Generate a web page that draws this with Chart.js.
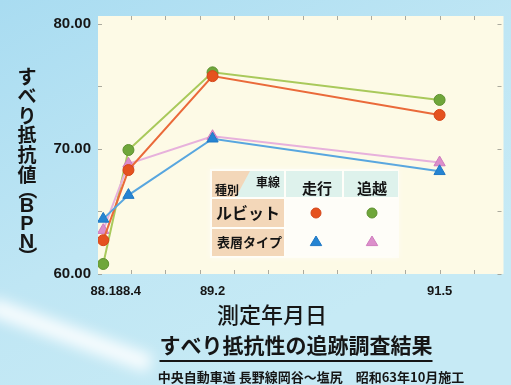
<!DOCTYPE html>
<html>
<head>
<meta charset="utf-8">
<script src="https://cdn.jsdelivr.net/npm/chart.js@4/dist/chart.umd.min.js"></script>
<style>
  html, body { margin: 0; padding: 0; background: #bfe5f3; }
  canvas { display: block; }
</style>
</head>
<body>
<canvas id="c" width="511" height="385"></canvas>
<script>
// 測定年月日 (年.月)
const dates = ['88.1', '88.4', '89.2', '91.5'];
// すべり抵抗値 (BPN)
const rubitSoko   = [62.7, 68.3, 75.8, 72.7];   // ルビット 走行
const rubitOikoshi = [60.8, 69.9, 76.1, 73.9];  // ルビット 追越
const hyosoSoko   = [64.4, 66.3, 70.8, 68.2];   // 表層タイプ 走行
const hyosoOikoshi = [63.5, 68.8, 71.0, 68.9];  // 表層タイプ 追越
const yTicks = [60, 70, 80];

const seriesNames = ['ルビット', '表層タイプ'];
const laneNames = ['走行', '追越'];

const CJK = '"Noto Sans CJK JP", "Noto Sans", sans-serif';
const LAT = '"Liberation Sans", Arial, sans-serif';

// "88.4" -> months elapsed since 88.1
function monthsOf(label) {
  const [yy, mm] = label.split('.').map(Number);
  return (yy - 88) * 12 + (mm - 1);
}
const months = dates.map(monthsOf);
const pts = vals => vals.map((v, i) => ({ x: months[i], y: v }));

const COL = {
  orange: '#e5521f', orangeLine: '#ea6a3a',
  green: '#6fa63a', greenLine: '#a9c95b',
  blue: '#2584d2', blueLine: '#58a6df',
  pink: '#dc8fcb', pinkLine: '#e7b1dc'
};

// index 0 is drawn on top
const datasets = [
  { key: 'hs', label: '表層タイプ 走行', data: pts(hyosoSoko), borderColor: COL.blueLine, backgroundColor: COL.blue,
    pointBorderColor: '#1f78c4', pointStyle: 'triangle', pointRadius: 6.5 },
  { key: 'rs', label: 'ルビット 走行', data: pts(rubitSoko), borderColor: COL.orangeLine, backgroundColor: COL.orange,
    pointBorderColor: '#d4461a', pointStyle: 'circle', pointRadius: 5.5 },
  { key: 'ho', label: '表層タイプ 追越', data: pts(hyosoOikoshi), borderColor: COL.pinkLine, backgroundColor: COL.pink,
    pointBorderColor: '#cf7dbd', pointStyle: 'triangle', pointRadius: 6.5 },
  { key: 'ro', label: 'ルビット 追越', data: pts(rubitOikoshi), borderColor: COL.greenLine, backgroundColor: COL.green,
    pointBorderColor: '#5e9130', pointStyle: 'circle', pointRadius: 5.5 }
].map(d => Object.assign({ borderWidth: 2, pointBorderWidth: 1, tension: 0 }, d));

// Page background, plot panel, and the title block
const decor = {
  id: 'decor',
  beforeDraw(chart) {
    const { ctx, chartArea: a, width: W, height: H } = chart;
    ctx.save();
    const g = ctx.createLinearGradient(0, 0, W * 0.4, H);
    g.addColorStop(0, '#a9dcf1');
    g.addColorStop(0.6, '#bfe6f4');
    g.addColorStop(1, '#c6eaf5');
    ctx.fillStyle = g;
    ctx.fillRect(0, 0, W, H);
    // soft white glare across the lower left
    ctx.filter = 'blur(7px)';
    ctx.strokeStyle = 'rgba(255,255,255,0.9)';
    ctx.lineWidth = 18;
    ctx.beginPath();
    ctx.moveTo(-10, 306);
    ctx.lineTo(150, 364);
    ctx.stroke();
    ctx.filter = 'none';
    // cream plot panel
    ctx.fillStyle = '#fdfae6';
    ctx.fillRect(a.left, a.top, a.right - a.left, a.bottom - a.top);
    ctx.restore();
  },
  afterDraw(chart) {
    const { ctx, chartArea: a, scales } = chart;
    const x = scales.x, y = scales.y;
    ctx.save();
    // small inward tick marks on the panel edges
    ctx.strokeStyle = 'rgba(150,150,140,0.8)';
    ctx.lineWidth = 1;
    for (let m = 3.3 - 4.08; m < x.max; m += 4.08) {
      const px = Math.round(x.getPixelForValue(m)) + 0.5;
      if (px < a.left + 2 || px > a.right - 2) continue;
      ctx.beginPath();
      ctx.moveTo(px, a.top); ctx.lineTo(px, a.top + 4);
      ctx.moveTo(px, a.bottom); ctx.lineTo(px, a.bottom - 4);
      ctx.stroke();
    }
    for (let v = 60; v <= 80; v += 5) {
      const py = Math.round(y.getPixelForValue(v)) + 0.5;
      ctx.beginPath();
      ctx.moveTo(a.left, py); ctx.lineTo(a.left + 4, py);
      ctx.moveTo(a.right - 6, py); ctx.lineTo(a.right - 2, py);
      ctx.stroke();
    }

    ctx.fillStyle = '#161616';
    ctx.textAlign = 'center';
    ctx.textBaseline = 'middle';

    // vertical axis title
    const yTitle = 'すべり抵抗値（BPN）';
    let cy = 66.5;
    for (const ch of yTitle) {
      if (ch === '（' || ch === '）') {
        const h = 12;
        ctx.save();
        ctx.translate(27, cy + h / 2);
        ctx.rotate(Math.PI / 2);
        ctx.font = 'bold 19px ' + CJK;
        ctx.fillText(ch, 0, 0);
        ctx.restore();
        cy += h;
      } else if (/[A-Z]/.test(ch)) {
        const h = 18;
        ctx.font = 'bold 20px ' + LAT;
        ctx.fillText(ch, 27, cy + h / 2 + 1);
        cy += h;
      } else {
        const h = 19.6;
        ctx.font = 'bold 19px ' + CJK;
        ctx.fillText(ch, 27, cy + h / 2);
        cy += h;
      }
    }

    // horizontal axis title
    ctx.font = '500 22px ' + CJK;
    ctx.fillText('測定年月日', 272, 315);

    // chart title with underline
    ctx.font = 'bold 21px ' + CJK;
    const title = 'すべり抵抗性の追跡調査結果';
    ctx.fillText(title, 296, 345);
    const tw = ctx.measureText(title).width;
    ctx.fillRect(296 - tw / 2, 360, tw, 2);

    // subtitle
    ctx.font = 'bold 13px ' + CJK;
    ctx.fillText('中央自動車道 長野線岡谷～塩尻　昭和63年10月施工', 311, 377);
    ctx.restore();
  }
};

// Key table: 種別 × 車線
const keyTable = {
  id: 'keyTable',
  afterDatasetsDraw(chart) {
    const { ctx } = chart;
    const byKey = {};
    chart.data.datasets.forEach(d => { byKey[d.key] = d; });
    const PEACH = '#f3d7b9', MINT = '#def2ec', WHITE = '#fefdf8';
    ctx.save();
    ctx.shadowColor = 'rgba(255,255,255,0.9)';
    ctx.shadowBlur = 6;
    ctx.fillStyle = 'rgba(255,255,255,0.55)';
    ctx.fillRect(210, 169, 189, 89);
    ctx.shadowBlur = 0;

    // header corner cell split on the diagonal
    ctx.fillStyle = MINT;
    ctx.fillRect(212, 171, 72, 26);
    ctx.fillStyle = PEACH;
    ctx.beginPath();
    ctx.moveTo(212, 171); ctx.lineTo(250, 171); ctx.lineTo(236, 197); ctx.lineTo(212, 197);
    ctx.closePath(); ctx.fill();
    // lane headers
    ctx.fillStyle = MINT;
    ctx.fillRect(286, 171, 56, 26);
    ctx.fillRect(344, 171, 54, 26);
    // row headers
    ctx.fillStyle = PEACH;
    ctx.fillRect(212, 199, 72, 28);
    ctx.fillRect(212, 229, 72, 27);
    // symbol cells
    ctx.fillStyle = WHITE;
    ctx.fillRect(286, 199, 112, 57);

    ctx.fillStyle = '#141414';
    ctx.textAlign = 'center';
    ctx.textBaseline = 'middle';
    ctx.font = 'bold 12px ' + CJK;
    ctx.fillText('種別', 227, 190);
    ctx.fillText('車線', 268, 182);
    ctx.font = 'bold 15px ' + CJK;
    ctx.fillText(laneNames[0], 317, 188);
    ctx.fillText(laneNames[1], 372, 188);
    ctx.textAlign = 'left';
    ctx.font = 'bold 16px ' + CJK;
    ctx.fillText(seriesNames[0], 216, 213);
    ctx.font = 'bold 13px ' + CJK;
    ctx.fillText(seriesNames[1], 217, 242);

    // symbols taken from the plotted datasets
    const cells = [
      [byKey.rs, 316, 213], [byKey.ro, 372, 213],
      [byKey.hs, 316, 242], [byKey.ho, 372, 242]
    ];
    for (const [d, cx, cyy] of cells) {
      ctx.fillStyle = d.backgroundColor;
      ctx.strokeStyle = d.pointBorderColor;
      ctx.lineWidth = 1;
      ctx.beginPath();
      if (d.pointStyle === 'triangle') {
        const r = 6;
        ctx.moveTo(cx, cyy - r);
        ctx.lineTo(cx + r * 0.95, cyy + r * 0.6);
        ctx.lineTo(cx - r * 0.95, cyy + r * 0.6);
        ctx.closePath();
      } else {
        ctx.arc(cx, cyy, 5, 0, Math.PI * 2);
      }
      ctx.fill();
      ctx.stroke();
    }
    ctx.restore();
  }
};

new Chart(document.getElementById('c'), {
  type: 'line',
  data: { datasets },
  options: {
    responsive: false,
    animation: false,
    events: [],
    layout: { padding: { top: 11, left: 0, right: 0, bottom: 0 } },
    plugins: { legend: { display: false }, tooltip: { enabled: false } },
    scales: {
      x: {
        type: 'linear',
        min: -0.62,
        max: 47.6,
        grid: { display: false, drawTicks: false },
        border: { display: false },
        afterBuildTicks: s => { s.ticks = months.map(v => ({ value: v })); },
        afterFit: s => { s.height = 111; },
        ticks: {
          autoSkip: false,
          maxRotation: 0,
          padding: 10,
          color: '#161616',
          font: { family: LAT, size: 13, weight: 'bold' },
          callback: v => dates[months.indexOf(v)]
        }
      },
      y: {
        min: 60,
        max: 80.6,
        grid: { display: false, drawTicks: false },
        border: { display: false },
        afterBuildTicks: s => { s.ticks = yTicks.map(v => ({ value: v })); },
        afterFit: s => { s.width = 98; },
        ticks: {
          padding: 7,
          color: '#161616',
          font: { family: LAT, size: 15, weight: 'bold' },
          callback: v => Number(v).toFixed(2)
        }
      }
    }
  },
  plugins: [decor, keyTable]
});
</script>
</body>
</html>
